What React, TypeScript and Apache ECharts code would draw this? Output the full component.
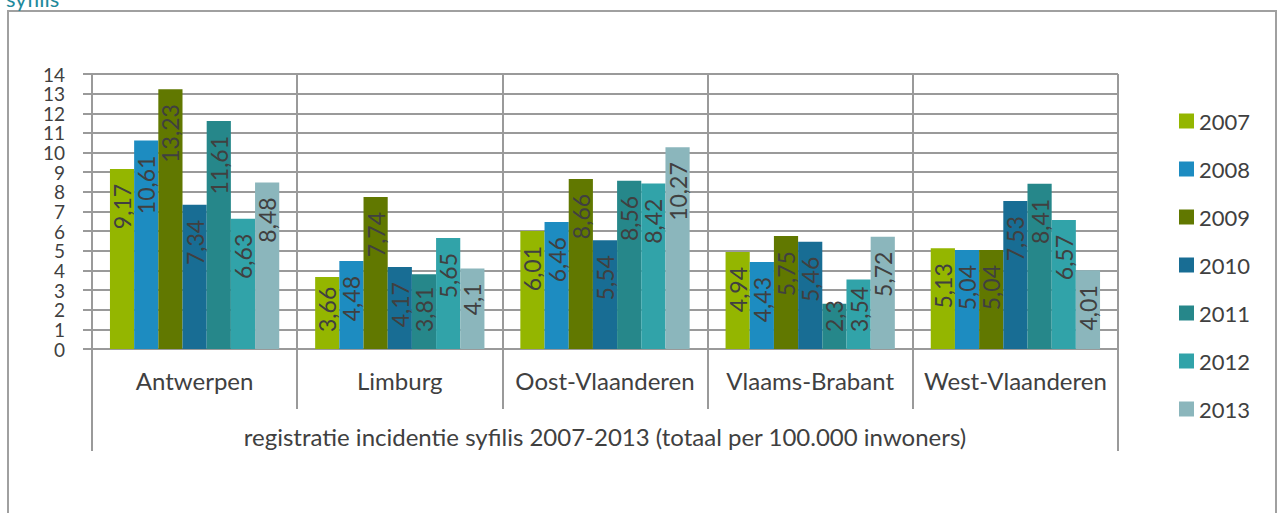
import React, { useEffect, useRef } from "react";
import * as echarts from "echarts";

const categories = ["Antwerpen", "Limburg", "Oost-Vlaanderen", "Vlaams-Brabant", "West-Vlaanderen"];
const groupLabel = ["registratie incidentie syfilis 2007-2013 (totaal per 100.000 inwoners)"];
const years = ["2007", "2008", "2009", "2010", "2011", "2012", "2013"];
const v2007 = [9.17, 3.66, 6.01, 4.94, 5.13];
const v2008 = [10.61, 4.48, 6.46, 4.43, 5.04];
const v2009 = [13.23, 7.74, 8.66, 5.75, 5.04];
const v2010 = [7.34, 4.17, 5.54, 5.46, 7.53];
const v2011 = [11.61, 3.81, 8.56, 2.3, 8.41];
const v2012 = [6.63, 5.65, 8.42, 3.54, 6.57];
const v2013 = [8.48, 4.1, 10.27, 5.72, 4.01];
const seriesValues = [v2007, v2008, v2009, v2010, v2011, v2012, v2013];
const colors = ["#94b600", "#1d8cc1", "#617800", "#186d94", "#26878a", "#31a3a9", "#8bb6bc"];

const FONT = "Lato, 'Open Sans', sans-serif";
const GRID = "#9a9a9a";
const LABEL_DIST = 15;
const BOTTOM_PAD = 17;

export default function App() {
  const ref = useRef<HTMLDivElement>(null);
  useEffect(() => {
    if (!ref.current) return;
    const chart = echarts.init(ref.current, null, { renderer: "svg" });
    const option: any = {
      animation: false,
      backgroundColor: "#ffffff",
      textStyle: { fontFamily: FONT },
      graphic: [
        {
          type: "rect",
          shape: { x: 8, y: 11, width: 1268, height: 540 },
          style: { fill: "none", stroke: "#a0a0a0", lineWidth: 2 },
          silent: true,
        },
        {
          type: "text",
          x: 6,
          y: 9,
          style: {
            text: "syfilis",
            fill: "#1f8a9c",
            font: "22px " + FONT,
            verticalAlign: "bottom",
            align: "left",
          },
        },
      ],
      legend: {
        orient: "vertical",
        left: 1174,
        top: 105,
        itemWidth: 15,
        itemHeight: 15,
        itemGap: 26,
        icon: "rect",
        textStyle: { fontSize: 22, color: "#404040", fontFamily: FONT, lineHeight: 22 },
        data: years,
      },
      grid: { left: 92, right: 159, top: 74, bottom: 164, containLabel: false },
      xAxis: [
        {
          type: "category",
          data: categories,
          position: "bottom",
          axisLine: { show: true, lineStyle: { color: GRID, width: 2 } },
          axisTick: { show: true, interval: 0, length: 60, lineStyle: { color: GRID, width: 2 } },
          splitLine: { show: true, interval: 0, lineStyle: { color: GRID, width: 2 } },
          axisLabel: { interval: 0, fontSize: 24, color: "#404040", fontFamily: FONT, margin: 19 },
        },
        {
          type: "category",
          data: groupLabel,
          position: "bottom",
          offset: 60,
          axisLine: { show: false },
          axisTick: { show: true, interval: 0, length: 42, lineStyle: { color: GRID, width: 2 } },
          splitLine: { show: false },
          axisLabel: { interval: 0, fontSize: 24, color: "#404040", fontFamily: FONT, margin: 15 },
        },
      ],
      yAxis: {
        type: "value",
        min: 0,
        max: 14,
        interval: 1,
        axisLine: { show: true, lineStyle: { color: GRID, width: 2 } },
        axisTick: { show: true, length: 9, lineStyle: { color: GRID, width: 2 } },
        splitLine: { show: true, lineStyle: { color: GRID, width: 2 } },
        axisLabel: {
          fontSize: 19,
          color: "#404040",
          fontFamily: FONT,
          margin: 27,
          showMinLabel: true,
          showMaxLabel: true,
          hideOverlap: false,
          lineHeight: 15,
        },
      },
      series: years.map((y, i) => ({
        name: y,
        type: "bar",
        xAxisIndex: 0,
        data: seriesValues[i],
        barGap: "0%",
        barCategoryGap: "17.5%",
        itemStyle: { color: colors[i] },
        label: {
          show: true,
          position: "insideTop",
          rotate: 90,
          align: "right",
          verticalAlign: "middle",
          distance: LABEL_DIST,
          fontSize: 23,
          color: "#404040",
          fontFamily: FONT,
          formatter: (p: any) => String(p.value).replace(".", ","),
        },
        labelLayout: (params: any) => {
          const r = params.rect;
          const lr = params.labelRect;
          const len = Math.max(lr.width, lr.height);
          const top = Math.min(r.y, r.y + r.height);
          const base = Math.max(r.y, r.y + r.height);
          const limit = base - BOTTOM_PAD;
          let anchor = top + LABEL_DIST;
          if (anchor + len > limit) anchor = limit - len;
          return {
            x: r.x + r.width / 2,
            y: anchor,
            rotate: 90,
            align: "right",
            verticalAlign: "middle",
          };
        },
      })),
    };
    chart.setOption(option);
    return () => chart.dispose();
  }, []);
  return (
    <div
      ref={ref}
      style={{ position: "absolute", left: 0, top: 0, width: 1277, height: 513 }}
    />
  );
}
